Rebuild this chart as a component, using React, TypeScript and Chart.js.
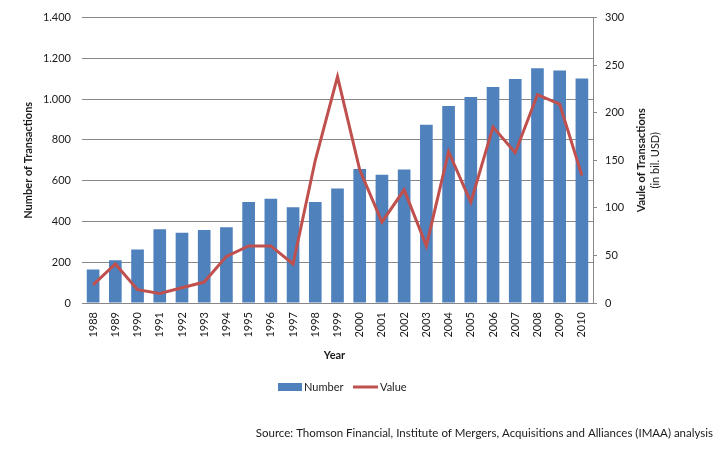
import React, { useEffect, useRef } from 'react';
import { Chart, registerables } from 'chart.js';

Chart.register(...registerables);

const years = ['1988', '1989', '1990', '1991', '1992', '1993', '1994', '1995', '1996', '1997', '1998', '1999', '2000', '2001', '2002', '2003', '2004', '2005', '2006', '2007', '2008', '2009', '2010'];
const numberOfTransactions = [164, 210, 263, 362, 345, 358, 372, 496, 512, 470, 496, 562, 657, 629, 655, 875, 966, 1010, 1059, 1099, 1151, 1141, 1101];
const valueOfTransactions = [19, 41, 14, 10, 16, 22, 49, 60, 60, 41, 150, 238, 140, 85, 119, 60, 159, 106, 185, 158, 219, 209, 134];

const leftAxis = { min: 0, max: 1400, step: 200 };
const rightAxis = { min: 0, max: 300, step: 50 };

const leftTitle = 'Number of Transactions';
const rightTitle = 'Vaule of Transactions';
const rightSubtitle = '(in bil. USD)';
const xTitle = 'Year';
const legendLabels = ['Number', 'Value'];
const sourceText = 'Source: Thomson Financial, Institute of Mergers, Acquisitions and Alliances (IMAA) analysis';

const FONT = 'Lato, "Open Sans", sans-serif';
const BLUE = '#4F81BD';
const RED = '#C0504D';
const GRID = '#888888';
const TEXT = '#1a1a1a';

const fmt = (v: number) => String(v).replace(/\B(?=(\d{3})+(?!\d))/g, '.');

const overlay = {
  id: 'overlay',
  afterDraw(chart: any) {
    const ctx = chart.ctx as CanvasRenderingContext2D;
    const { left, right, top, bottom } = chart.chartArea;
    const midY = (top + bottom) / 2;
    ctx.save();
    ctx.fillStyle = TEXT;
    ctx.textAlign = 'center';
    ctx.textBaseline = 'middle';

    // left axis title
    ctx.save();
    ctx.font = `bold 11px ${FONT}`;
    ctx.translate(28, midY);
    ctx.rotate(-Math.PI / 2);
    ctx.fillText(leftTitle, 0, 0);
    ctx.restore();

    // right axis title (two lines, bottom-to-top)
    ctx.save();
    ctx.font = `bold 11px ${FONT}`;
    ctx.translate(641, midY);
    ctx.rotate(-Math.PI / 2);
    ctx.fillText(rightTitle, 0, 0);
    ctx.restore();
    ctx.save();
    ctx.font = `11px ${FONT}`;
    ctx.translate(655, midY);
    ctx.rotate(-Math.PI / 2);
    ctx.fillText(rightSubtitle, 0, 0);
    ctx.restore();

    // x axis title
    ctx.font = `bold 11px ${FONT}`;
    ctx.fillText(xTitle, (left + right) / 2 - 3, 355);

    // legend
    ctx.textAlign = 'left';
    ctx.font = `11px ${FONT}`;
    ctx.fillStyle = BLUE;
    ctx.fillRect(278, 383, 24, 8);
    ctx.fillStyle = TEXT;
    ctx.fillText(legendLabels[0], 304, 387);
    ctx.strokeStyle = RED;
    ctx.lineWidth = 3;
    ctx.beginPath();
    ctx.moveTo(353, 387);
    ctx.lineTo(378, 387);
    ctx.stroke();
    ctx.fillText(legendLabels[1], 380, 387);

    // source
    ctx.textAlign = 'right';
    ctx.font = `11.5px ${FONT}`;
    ctx.fillText(sourceText, 713, 433);
    ctx.restore();
  },
};

export default function App() {
  const ref = useRef<HTMLCanvasElement>(null);

  useEffect(() => {
    if (!ref.current) return;
    const chart = new Chart(ref.current, {
      data: {
        labels: years,
        datasets: [
          {
            type: 'line' as const,
            label: legendLabels[1],
            data: valueOfTransactions,
            yAxisID: 'y1',
            borderColor: RED,
            backgroundColor: RED,
            borderWidth: 3,
            pointRadius: 0,
            tension: 0,
            order: 0,
          },
          {
            type: 'bar' as const,
            label: legendLabels[0],
            data: numberOfTransactions,
            yAxisID: 'y',
            backgroundColor: BLUE,
            categoryPercentage: 1,
            barPercentage: 0.57,
            order: 1,
          },
        ],
      },
      options: {
        responsive: false,
        animation: false,
        layout: { padding: { top: 16, left: 0, right: 0, bottom: 0 } },
        plugins: { legend: { display: false }, tooltip: { enabled: false } },
        scales: {
          x: {
            grid: { display: false, drawTicks: false },
            border: { display: true, color: GRID, width: 1 },
            ticks: {
              autoSkip: false,
              minRotation: 90,
              maxRotation: 90,
              padding: 9,
              color: TEXT,
              font: { family: FONT, size: 11 },
            },
            afterFit: (s: any) => { s.height = 449 - 303; },
          },
          y: {
            position: 'left',
            min: leftAxis.min,
            max: leftAxis.max,
            grid: { color: GRID, drawTicks: false },
            border: { display: false },
            ticks: {
              stepSize: leftAxis.step,
              padding: 11,
              color: TEXT,
              font: { family: FONT, size: 11 },
              callback: (v: any) => fmt(Number(v)),
            },
            afterFit: (s: any) => { s.width = 82; },
          },
          y1: {
            position: 'right',
            min: rightAxis.min,
            max: rightAxis.max,
            grid: { drawOnChartArea: false, color: GRID, tickLength: 4 },
            border: { display: true, color: GRID },
            ticks: {
              stepSize: rightAxis.step,
              padding: 8,
              color: TEXT,
              font: { family: FONT, size: 11 },
            },
            afterFit: (s: any) => { s.width = 720 - 593; },
          },
        },
      } as any,
      plugins: [overlay],
    });
    return () => chart.destroy();
  }, []);

  return (
    <div style={{ position: 'absolute', left: 0, top: 0, width: 720, height: 449, background: '#fff' }}>
      <canvas ref={ref} width={720} height={449} />
    </div>
  );
}
